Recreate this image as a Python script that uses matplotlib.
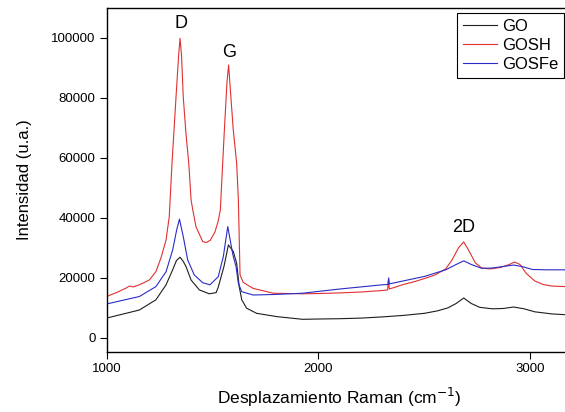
import numpy as np
import matplotlib
matplotlib.use('Agg')
import matplotlib.pyplot as plt

plt.rcParams['font.family'] = ['Liberation Sans', 'DejaVu Sans']

# GO (negro)
go_x = [1000, 1155, 1233, 1281, 1312, 1330, 1347, 1362, 1375, 1399, 1438, 1485, 1517, 1527,
        1554, 1575, 1598, 1614, 1626, 1638, 1661, 1708, 1803, 1925, 2000, 2100, 2200, 2300,
        2400, 2500, 2560, 2610, 2650, 2685, 2720, 2760, 2820, 2870, 2920, 2970, 3020, 3100, 3200]
go_y = [6600, 9300, 12700, 17700, 22700, 25800, 26900, 25500, 23800, 19300, 16000, 14700, 15100, 16900,
        23800, 31000, 28800, 24900, 17100, 12700, 9900, 8200, 7100, 6200, 6300, 6400, 6600, 7000,
        7500, 8200, 9000, 10000, 11500, 13300, 11500, 10200, 9700, 9800, 10300, 9700, 8700, 8000, 7600]

# GOSH (rojo)
gosh_x = [1000, 1050, 1092, 1108, 1125, 1155, 1202, 1233, 1257, 1281, 1296, 1309, 1328, 1340,
          1347, 1354, 1362, 1375, 1388, 1399, 1407, 1422, 1454, 1471, 1490, 1512, 1527, 1537,
          1548, 1556, 1568, 1576, 1585, 1598, 1614, 1622, 1630, 1645, 1692, 1787, 1925, 2000,
          2100, 2200, 2300, 2326, 2330, 2334, 2400, 2450, 2500, 2550, 2600, 2630, 2660, 2685,
          2710, 2740, 2770, 2810, 2860, 2900, 2925, 2950, 2980, 3020, 3060, 3100, 3200]
gosh_y = [13800, 15200, 16600, 17300, 17000, 17700, 19300, 22100, 26700, 32700, 40400, 58300, 80400, 94000,
          99900, 94000, 80400, 68000, 58300, 46000, 42700, 37100, 32100, 31800, 32600, 35400, 39000, 42700,
          58200, 69300, 85000, 91000, 82000, 69300, 58200, 46000, 21000, 18500, 16500, 14900, 14700, 14800,
          15000, 15300, 15800, 16000, 19500, 16300, 17800, 18700, 19800, 21000, 23000, 26000, 30000, 32000,
          29000, 25000, 23300, 23000, 23500, 24500, 25300, 24500, 21500, 19000, 17800, 17300, 17000]

# GOSFe (azul)
gosfe_x = [1000, 1155, 1233, 1281, 1312, 1331, 1344, 1362, 1383, 1414, 1454, 1488, 1527, 1551,
           1572, 1586, 1598, 1611, 1622, 1638, 1692, 1800, 1925, 2000, 2100, 2200, 2300, 2328,
           2331, 2334, 2400, 2500, 2600, 2650, 2685, 2720, 2770, 2820, 2870, 2920, 2960, 3010,
           3080, 3200]
gosfe_y = [11300, 13800, 17100, 22100, 29300, 36000, 39600, 33800, 26000, 21000, 18400, 17700, 20400, 27100,
           37100, 31600, 27100, 23800, 18200, 15400, 14300, 14500, 14900, 15500, 16300, 17000, 17700, 17800,
           20000, 18000, 19000, 20500, 22700, 24500, 25700, 24500, 23200, 23300, 23800, 24300, 23800, 22800,
           22700, 22700]

labels = ['GO', 'GOSH', 'GOSFe']
colors = ['#1e1e1e', '#e03030', '#2a2ac8']

fig = plt.figure(figsize=(5.65, 4.12), dpi=100)
ax = fig.add_axes([106.5 / 565, 60 / 412, 466.4 / 565, 344 / 412])

series = [(go_x, go_y), (gosh_x, gosh_y), (gosfe_x, gosfe_y)]
for (x, y), lab, c in zip(series, labels, colors):
    ax.plot(x, y, color=c, lw=0.8, label=lab)

ax.set_xlim(1000, 3200)
ax.set_ylim(-4700, 110000)
ax.set_xticks([1000, 2000, 3000])
ax.set_yticks([0, 20000, 40000, 60000, 80000, 100000])
ax.tick_params(direction='out', length=5, width=0.8, labelsize=9.5, pad=3)
for s in ax.spines.values():
    s.set_linewidth(1.0)

ax.set_xlabel('Desplazamiento Raman (cm$^{-1}$)', fontsize=12.5, labelpad=8)
ax.set_ylabel('Intensidad (u.a.)', fontsize=12, labelpad=14)

# etiquetas de bandas
ax.text(1350, 104700, 'D', fontsize=13, ha='center', va='center')
ax.text(1579, 95300, 'G', fontsize=13, ha='center', va='center')
ax.text(2684, 36700, '2D', fontsize=13, ha='center', va='center')

leg = ax.legend(loc='upper right', bbox_to_anchor=(564 / 565, 1 - 13 / 412),
                bbox_transform=fig.transFigure, borderaxespad=0, fontsize=12,
                frameon=True, fancybox=False, edgecolor='black', framealpha=1,
                labelspacing=0.25, handlelength=2.05, handletextpad=0.3, borderpad=0.35)
leg.get_frame().set_linewidth(0.8)

fig.savefig('out.png', dpi=100)
